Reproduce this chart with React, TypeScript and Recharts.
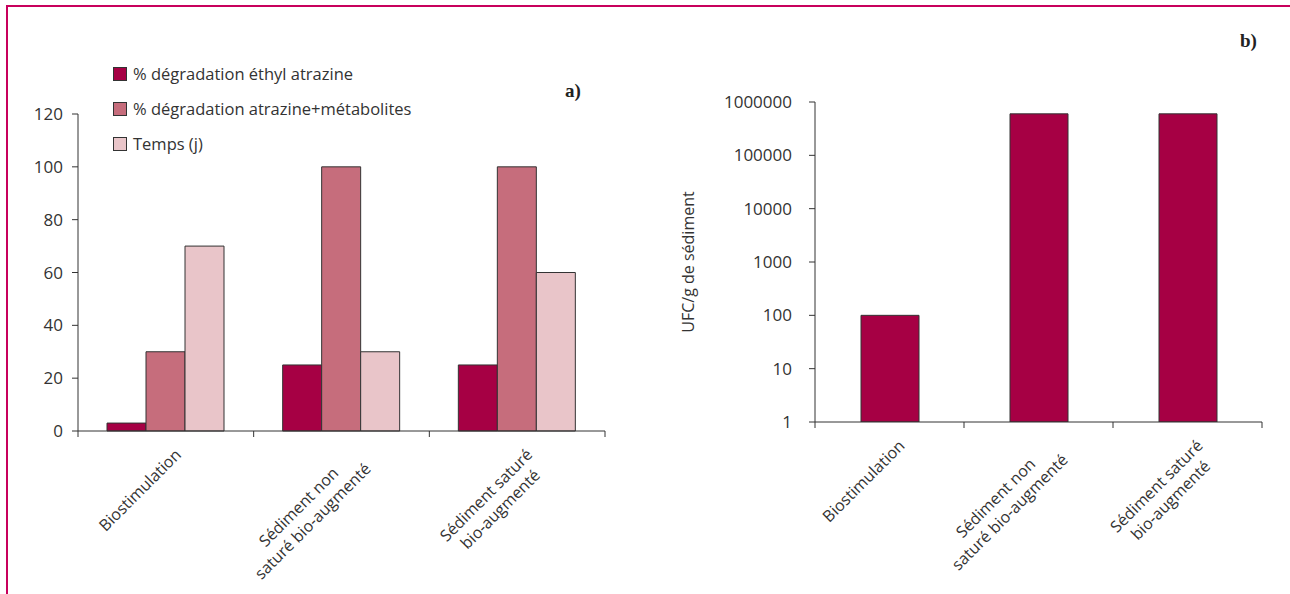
import React from 'react'
import { BarChart, Bar, XAxis, YAxis, Legend } from 'recharts'

// categories share the same three treatments in both panels
const categories = ['Biostimulation', 'Sédiment non\nsaturé bio-augmenté', 'Sédiment saturé\nbio-augmenté']

// panel a) – degradation and duration
const seriesNames = ['% dégradation éthyl atrazine', '% dégradation atrazine+métabolites', 'Temps (j)']
const ethylAtrazine = [3, 25, 25]
const atrazineMetabolites = [30, 100, 100]
const temps = [70, 30, 60]
const degradationTicks = [0, 20, 40, 60, 80, 100, 120]

// panel b) – colony counts (log scale)
const ufc = [100, 600000, 600000]
const ufcTicks = [1, 10, 100, 1000, 10000, 100000, 1000000]

const FONT = '"Open Sans", sans-serif'
const INK = '#333'
const DARK = '#a60044'
const MID = '#c66d7c'
const LIGHT = '#e9c5c9'
const FRAME = '#c8005c'

const degradationData = categories.map((name, i) => ({
    name,
    ethyl: ethylAtrazine[i],
    metab: atrazineMetabolites[i],
    temps: temps[i],
}))

const ufcData = categories.map((name, i) => ({ name, ufc: ufc[i] }))

let ctx: CanvasRenderingContext2D | null = null
const textWidth = (s: string, font: string) => {
    if (!ctx) ctx = document.createElement('canvas').getContext('2d')
    if (!ctx) return s.length * 7.5
    ctx.font = font
    return ctx.measureText(s).width
}

// rotated, centred multi-line label plus tick marks on the band edges
const CategoryTick = (props: any) => {
    const { x, y, payload, index } = props
    const lines = String(payload.value).split('\n')
    const maxW = Math.max(...lines.map((l) => textWidth(l, `16px ${FONT}`)))
    const off = payload.offset || 0
    return (
        <g>
            <line x1={x - off} x2={x - off} y1={y} y2={y + 6} stroke={INK} />
            {index === categories.length - 1 && (
                <line x1={x + off} x2={x + off} y1={y} y2={y + 6} stroke={INK} />
            )}
            <g transform={`translate(${x},${y}) rotate(-45)`}>
                {lines.map((l, i) => (
                    <text
                        key={i}
                        x={-6 - maxW / 2}
                        y={29 + i * 20}
                        textAnchor="middle"
                        fontSize={16}
                        fontFamily={FONT}
                        fill={INK}
                    >
                        {l}
                    </text>
                ))}
            </g>
        </g>
    )
}

const renderLegend = (props: any) => {
    const items = [...(props.payload || [])].sort(
        (a: any, b: any) => seriesNames.indexOf(a.value) - seriesNames.indexOf(b.value)
    )
    return (
        <div style={{ fontFamily: FONT, fontSize: 16.5, color: INK }}>
            {items.map((entry: any) => (
                <div key={entry.value} style={{ display: 'flex', alignItems: 'center', height: 35, whiteSpace: 'nowrap' }}>
                    <span
                        style={{
                            display: 'inline-block',
                            width: 12,
                            height: 12,
                            background: entry.color,
                            border: `1px solid ${INK}`,
                            marginRight: 6,
                        }}
                    />
                    {entry.value}
                </div>
            ))}
        </div>
    )
}

const panelTag: React.CSSProperties = {
    position: 'absolute',
    fontFamily: '"Liberation Serif", serif',
    fontWeight: 'bold',
    fontSize: 19,
    color: '#222',
}

export default function App() {
    return (
        <div
            style={{
                position: 'absolute',
                left: 0,
                top: 0,
                width: 1290,
                height: 594,
                overflow: 'hidden',
                background: '#fff',
            }}
        >
            {/* a) */}
            <div style={{ position: 'absolute', left: 0, top: 0 }}>
                <BarChart
                    width={620}
                    height={594}
                    data={degradationData}
                    margin={{ top: 114, right: 15, bottom: 63, left: 18 }}
                    barGap={0}
                    barSize={39}
                >
                    <XAxis
                        dataKey="name"
                        height={100}
                        interval={0}
                        tickSize={0}
                        tickMargin={0}
                        tickLine={false}
                        axisLine={{ stroke: INK }}
                        tick={<CategoryTick />}
                    />
                    <YAxis
                        width={60}
                        domain={[0, 120]}
                        ticks={degradationTicks}
                        tickSize={6}
                        tickMargin={9}
                        axisLine={{ stroke: INK }}
                        tickLine={{ stroke: INK }}
                        tick={{ fontSize: 17, fill: INK, fontFamily: FONT }}
                    />
                    <Legend
                        layout="vertical"
                        align="center"
                        verticalAlign="middle"
                        wrapperStyle={{ position: 'absolute', top: 56, left: 113, width: 'auto' }}
                        content={renderLegend}
                    />
                    <Bar dataKey="ethyl" name={seriesNames[0]} fill={DARK} stroke={INK} strokeWidth={1} isAnimationActive={false} />
                    <Bar dataKey="metab" name={seriesNames[1]} fill={MID} stroke={INK} strokeWidth={1} isAnimationActive={false} />
                    <Bar dataKey="temps" name={seriesNames[2]} fill={LIGHT} stroke={INK} strokeWidth={1} isAnimationActive={false} />
                </BarChart>
            </div>
            <div style={{ ...panelTag, left: 565, top: 80 }}>a)</div>

            {/* b) */}
            <div style={{ position: 'absolute', left: 620, top: 0 }}>
                <BarChart
                    width={670}
                    height={594}
                    data={ufcData}
                    margin={{ top: 102, right: 28, bottom: 72, left: 65 }}
                    barSize={58}
                >
                    <XAxis
                        dataKey="name"
                        height={100}
                        interval={0}
                        tickSize={0}
                        tickMargin={0}
                        tickLine={false}
                        axisLine={{ stroke: INK }}
                        tick={<CategoryTick />}
                    />
                    <YAxis
                        width={130}
                        scale="log"
                        type="number"
                        domain={[1, 1000000]}
                        allowDataOverflow
                        ticks={ufcTicks}
                        interval={0}
                        tickSize={6}
                        tickMargin={17}
                        axisLine={{ stroke: INK }}
                        tickLine={{ stroke: INK }}
                        tick={{ fontSize: 17, fill: INK, fontFamily: FONT }}
                        label={{
                            value: 'UFC/g de sédiment',
                            angle: -90,
                            position: 'insideLeft',
                            offset: 3,
                            style: { textAnchor: 'middle', fontSize: 16, fill: INK, fontFamily: FONT },
                        }}
                    />
                    <Bar dataKey="ufc" fill={DARK} stroke={INK} strokeWidth={1} isAnimationActive={false} />
                </BarChart>
            </div>
            <div style={{ ...panelTag, left: 1240, top: 30 }}>b)</div>

            {/* frame, drawn on top */}
            <div
                style={{
                    position: 'absolute',
                    left: 6,
                    top: 5,
                    width: 1300,
                    height: 600,
                    borderTop: `2px solid ${FRAME}`,
                    borderLeft: `2px solid ${FRAME}`,
                    pointerEvents: 'none',
                    zIndex: 5,
                }}
            />
        </div>
    )
}
